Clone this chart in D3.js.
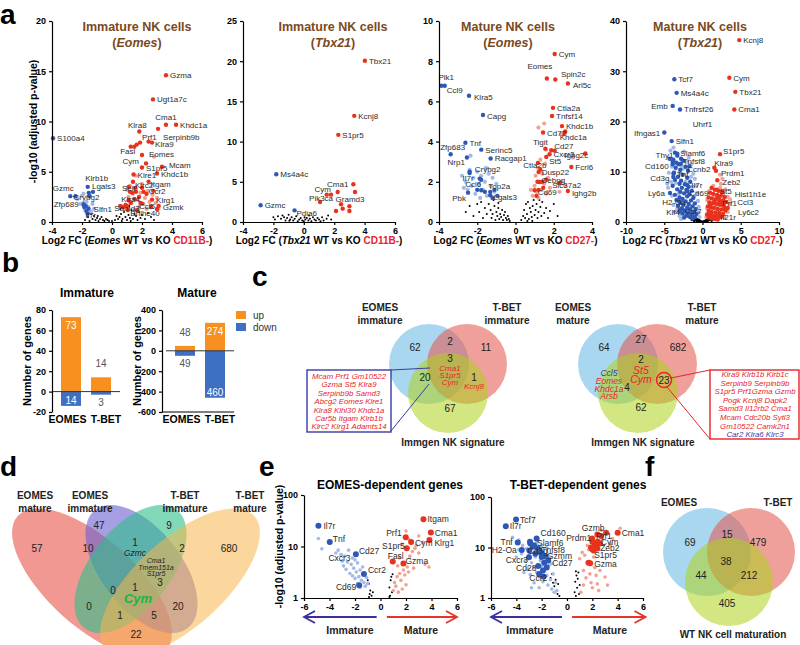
<!DOCTYPE html>
<html><head><meta charset="utf-8">
<script src="https://cdn.jsdelivr.net/npm/d3@7"></script>
<style>body{margin:0;background:#fff}svg{font-family:"Liberation Sans",Arial,Helvetica,sans-serif}</style>
</head><body><script>
// ================= DATA =================
// ---- a1: Immature NK cells (Eomes) ----
const a1Up=[["Gzma",3.6,14.6],["Ugt1a7c",2.73,12.2],["Cma1",3.6,9.67],["Khdc1a",4.27,9.67],["Serpinb9b",3.07,9.27],["Klra8",1.82,9.0],["Prf1",1.87,7.9],["Klra9",2.67,7.9],["Fasl",1.49,7.5],["Eomes",2.0,6.67],["Cym",2.27,5.83],["S1pr5",2.0,5.43],["Mcam",3.33,5.5],["Khdc1b",3.0,4.83],["Klre1",1.44,4.73],["Itgam",2.44,4.0],["Klrc2",1.4,4.0],["Sell",1.11,3.5],["Ccr2",2.11,3.0],["Klrg1",2.67,2.23],["Klra4",1.11,2.17],["Samd3",1.0,1.6],["Ccl5",2.0,1.83],["Gzmk",3.11,1.6],["Bhlhe40",1.67,1.17]];
const a1Down=[["S100a4",-3.93,8.33],["Klrb1b",-1.62,3.5],["Lgals3",-1.27,3.0],["Gzmc",-2.78,2.57],["Crybg2",-1.5,2.6],["Zfp689",-1.89,1.77],["Slfn1",-1.56,1.33],["Il7r",-1.62,0.83]];
const a1UpX=[[2.44,8.0],[1.65,7.7],[1.25,7.5],[0.9,1.7],[1.2,3.0],[1.6,3.0],[2.3,2.8],[1.8,2.5],[1.25,1.9],[0.7,1.5],[1.5,2.3],[1.35,2.9],[1.55,3.4],[2.6,1.5],[1.9,1.9],[1.05,1.2],[2.0,3.4],[0.55,1.6],[3.0,1.3],[2.75,3.1]];
const a1DownX=[[-2.44,2.57],[-1.75,1.6],[-1.85,1.5],[-1.55,2.9],[-1.7,1.1]];
const a1UpL=[[0.9,1.5],[1.0,3.2],[1.1,2.5],[1.2,3.6],[1.3,1.9],[1.4,2.8],[1.5,1.2],[1.6,3.3],[1.7,2.2],[1.8,1.5],[1.9,2.9],[2.0,3.8],[2.1,1.8],[2.2,2.4],[2.3,1.3],[2.4,3.1],[2.5,2.0],[2.6,1.6],[2.7,2.7],[2.9,1.9],[3.0,2.4],[2.8,6.5],[1.6,4.6],[3.1,1.3]];
const a1DownL=[[-2.3,2.3],[-2.1,1.8],[-1.9,2.8],[-1.8,1.2],[-1.7,2.0],[-1.6,1.5],[-1.5,2.5],[-1.4,1.0],[-1.3,1.8],[-1.2,1.3],[-1.9,1.6],[-2.0,2.6]];
const a1Ns=[[-1.8,0.2],[-1.6,0.5],[-1.5,0.1],[-1.3,0.3],[-1.2,0.6],[-1.1,0.2],[-1.0,0.4],[-0.9,0.1],[-0.8,0.3],[-0.7,0.5],[-0.6,0.2],[-0.5,0.1],[-0.4,0.3],[-0.3,0.2],[-0.2,0.1],[0,0.1],[0.2,0.2],[0.4,0.3],[0.5,0.5],[0.6,0.8],[0.7,0.3],[0.8,1.0],[0.9,0.5],[1.0,0.2],[1.1,0.7],[1.2,0.4],[1.3,1.2],[1.4,0.3],[1.5,0.8],[1.6,0.6],[1.7,0.2],[1.8,1.0],[1.9,0.4],[2.0,0.7],[2.2,0.3],[2.4,0.9],[2.6,0.5],[2.8,0.2],[-1.4,0.8],[-0.95,0.6],[0.3,0.6],[0.55,1.3],[0.9,1.5],[1.15,1.6],[0.65,0.1],[1.25,0.1]];
const a1Pos={Cma1:[0,-5,"middle"],Serpinb9b:[5,11],Klra8:[-2,-4,"middle"],Prf1:[2,-3],Klra9:[3,4],Fasl:[1,7,"end"],Eomes:[7,2],Cym:[-7,1,"end"],S1pr5:[4,4],Mcam:[7,1],Khdc1b:[4,4],Klre1:[4,4],Itgam:[2,5],Klrc2:[2,6],Sell:[0,4,"middle"],Ccr2:[5,2],Klra4:[2,2,"middle"],Samd3:[0,5,"middle"],Ccl5:[-3,5],Gzmk:[4,4],Bhlhe40:[8,6,"middle"],Klrb1b:[9,-6,"middle"],Lgals3:[-1,-3],Gzmc:[-7,-5,"middle"],Crybg2:[-3,4,"middle"],Zfp689:[-5,3,"end"],Slfn1:[5,3],Il7r:[3,4,"middle"]};

// ---- a2: Immature NK cells (Tbx21) ----
const a2Up=[["Tbx21",4.02,20.06],["Kcnj8",3.32,13.2],["S1pr5",2.27,10.84],["Cma1",2.23,3.74],["Cym",1.51,3.4],["Pik3ca",1.07,2.49],["Gramd3",2.45,2.2]];
const a2Down=[["Ms4a4c",-1.81,5.94],["Gzmc",-2.84,2.08],["Pdia6",-0.61,1.45]];
const a2UpX=[[1.79,3.4],[3.26,4.69],[3.37,3.74],[2.56,1.66],[3.0,1.95],[3.0,1.37],[2.12,1.37]];
const a2Ns=[[-2.0,0.6],[-1.9,0.3],[-1.7,0.7],[-1.5,0.4],[-1.4,0.8],[-1.2,0.2],[-1.1,0.5],[-1.0,0.9],[-0.9,0.3],[-0.8,0.6],[-0.7,0.2],[-0.6,0.4],[-0.5,0.7],[-0.4,0.1],[-0.3,0.3],[-0.2,0.5],[-0.1,0.2],[0,0.1],[0.1,0.3],[0.2,0.5],[0.3,0.2],[0.4,0.4],[0.5,0.1],[0.6,0.6],[0.7,0.3],[0.8,0.2],[0.9,0.5],[1.0,0.3],[1.2,0.6],[1.3,0.2],[1.5,0.4],[1.6,0.8],[1.8,0.3],[-1.3,0.6],[-0.95,0.15],[0.05,0.6],[0.35,0.8],[1.1,0.1]];
const a2Pos={Cma1:[0,-5,"middle"],Cym:[-4,-3,"middle"],Pik3ca:[1,-1,"middle"],Gramd3:[9,-2,"middle"],Pdia6:[2,6]};

// ---- a3: Mature NK cells (Eomes) ----
const a3Up=[["Cym",2.05,8.36],["Eomes",1.64,7.14],["Spin2c",2.08,7.09],["Arl5c",2.74,6.89],["Ctla2a",1.96,5.68],["Tnfsf14",1.91,5.27],["Khdc1b",2.43,4.77],["Cd72",1.44,4.45],["Khdc1a",2.57,4.44],["Tigit",1.56,3.65],["Cd27",1.87,3.57],["Cxcr3",1.78,3.37],["Ighg2c",3.65,3.41],["St5",1.61,3.24],["Ctla2b",1.17,2.94],["Fcrl6",2.92,2.74],["Dusp22",1.21,2.49],["Cebpg",1.26,1.99],["Slc37a2",2.31,1.94],["Cd69",1.0,1.58],["Ighg2b",2.74,1.54]];
const a3Down=[["Plk1",-3.88,6.78],["Ccl9",-3.7,6.78],["Klra5",-2.43,6.28],["Capg",-1.7,5.32],["Tnf",-2.62,3.94],["Zfp683",-3.39,3.37],["Nrp1",-2.54,3.21],["Serinc5",-1.79,3.6],["Racgap1",-1.3,3.16],["Crybg2",-2.4,2.44],["Il7r",-1.87,2.16],["Ccl6",-1.79,1.58],["Top2a",-1.32,1.5],["Pbk",-2.48,1.46],["Lgals3",-1.32,1.33]];
const a3UpX=[[1.3,2.6],[1.15,2.0],[1.4,2.0],[1.6,2.1],[1.2,1.6],[2.6,4.5],[2.05,3.55],[1.1,1.3],[1.45,1.7]];
const a3DownX=[[-2.4,2.5],[-1.8,2.1],[-1.1,1.6],[-1.6,1.5],[-2.0,1.6],[-0.95,1.3],[-1.2,1.2]];
const a3UpL=[[0.9,1.3],[1.0,1.8],[1.05,2.3],[1.1,1.5],[1.15,2.7],[1.2,1.2],[1.25,2.0],[1.3,3.1],[1.35,1.6],[1.4,2.4],[1.5,1.9],[1.55,2.9],[1.6,1.4],[1.7,2.2],[1.8,1.7],[1.2,4.7],[1.5,4.9],[1.6,3.6],[2.3,1.5],[2.4,2.0],[2.6,1.8],[3.0,3.2],[2.4,4.4],[0.8,1.6]];
const a3DownL=[[-2.8,2.3],[-2.6,2.0],[-2.5,1.6],[-2.4,2.6],[-2.3,1.8],[-2.2,2.2],[-2.1,1.4],[-2.0,2.5],[-1.9,1.9],[-1.8,2.3],[-1.7,1.6],[-1.6,2.0],[-1.5,1.3],[-1.4,2.4],[-1.3,1.8],[-1.2,2.2],[-1.1,1.5],[-1.0,1.9],[-2.7,1.7],[-1.85,1.2],[-2.35,3.3],[-1.55,2.7]];
const a3Ns=[[-2.4,0.8],[-2.2,0.3],[-2.0,0.9],[-1.9,0.5],[-1.8,1.0],[-1.7,0.2],[-1.6,0.7],[-1.5,0.4],[-1.4,0.9],[-1.3,0.6],[-1.25,0.2],[-1.2,0.4],[-1.1,0.8],[-1.0,0.5],[-0.95,0.3],[-0.9,0.7],[-0.85,0.15],[-0.8,0.4],[-0.75,0.25],[-0.7,0.6],[-0.65,0.1],[-0.6,0.35],[-0.55,0.5],[-0.5,0.2],[-0.45,0.1],[-0.4,0.3],[-0.35,0.15],[-0.3,0.05],[-1.05,0.1],[-1.15,1.1],[-0.9,0.95],[-2.6,0.5],[0.3,0.1],[0.4,0.3],[0.45,0.6],[0.5,0.2],[0.55,0.9],[0.6,0.4],[0.65,1.0],[0.7,0.15],[0.75,0.7],[0.8,0.5],[0.85,0.25],[0.9,0.8],[0.95,1.1],[1.0,0.35],[1.05,0.6],[1.1,0.9],[1.15,0.2],[1.2,0.5],[1.3,0.75],[1.35,0.3],[1.4,1.0],[1.5,0.45],[1.6,0.7],[1.7,0.2],[1.8,0.55],[2.0,0.9],[2.2,0.3],[0.62,0.05],[0.88,0.05],[1.25,1.1]];
const a3Pos={Plk1:[5,-6,"middle"],Ccl9:[2,7],Klra5:[5,4],Capg:[4,4],Zfp683:[2,-4,"middle"],Nrp1:[-2,8,"end"],Crybg2:[18,-1,"middle"],Il7r:[-6,2,"end"],Ccl6:[-8,-3,"middle"],Top2a:[9,-3,"middle"],Pbk:[-9,8,"middle"],Lgals3:[15,5,"middle"],Eomes:[-7,-9,"middle"],Spin2c:[18,-2,"middle"],Arl5c:[5,4],Khdc1a:[-5,7],Tigit:[-5,-4,"middle"],Cd27:[3,-1],St5:[3,7],Ighg2c:[-9,5,"middle"],Ctla2b:[-3,5,"middle"],Dusp22:[3,3],Cebpg:[2,1],Slc37a2:[7,5,"middle"],Cd69:[3,5],Ighg2b:[4,5]};

// ---- a4: Mature NK cells (Tbx21) ----
const a4Up=[["Kcnj8",4.81,36.2],["Cym",3.51,28.7],["Tbx21",4.29,25.9],["Cma1",4.16,22.4],["S1pr5",2.29,13.5],["Klra9",1.55,10.8],["Prdm1",1.76,10.2],["Zeb2",1.94,8.3],["St5",1.85,6.45],["Hist1h1e",2.51,5.98],["Ccl3",2.72,4.32],["Prf1",2.2,3.79],["Ly6c2",2.94,2.66],["Il21r",2.07,1.33]];
const a4Down=[["Tcf7",-3.68,28.4],["Ms4a4c",-3.38,25.7],["Emb",-3.9,23.1],["Tnfrsf26",-2.94,22.4],["Ifngas1",-4.99,17.8],["Slfn1",-4.03,16.1],["Slamf6",-3.29,13.6],["Thy1",-3.81,12.4],["Tnfsf8",-2.85,11.6],["Cd160",-3.9,11.5],["Ccnb2",-1.72,11.1],["Tnf",-3.73,9.77],["Cd3g",-3.81,8.97],["Il7r",-1.98,7.31],["Cd69",-1.98,6.18],["Ly6a",-4.25,5.78],["H2-Oa",-3.07,4.12],["Ccr7",-2.72,2.66],["Klf4",-2.94,2.46]];
const a4Text=[["Uhrf1",0.0,19.6]];
const a4DownX=[[-3.6,13.8],[-3.3,13.2],[-2.8,12.6],[-3.9,12.0],[-2.5,12.2],[-3.1,11.5],[-2.2,11.0],[-3.5,10.8],[-2.9,10.4],[-1.9,10.2],[-3.8,9.6],[-2.6,9.4],[-3.2,9.0],[-2.0,8.8],[-3.6,8.4],[-2.8,8.2],[-1.6,8.0],[-3.0,7.6],[-2.3,7.5],[-3.9,7.2],[-1.8,7.0],[-2.7,6.8],[-3.3,6.5],[-2.1,6.4],[-1.4,6.2],[-2.9,6.0],[-2.4,5.7],[-3.6,5.4],[-1.7,5.5],[-2.0,5.1],[-3.0,4.9],[-1.2,4.8],[-2.6,4.6],[-3.4,4.4],[-1.5,4.3],[-2.2,4.1],[-2.9,3.8],[-1.0,3.7],[-1.8,3.6],[-2.5,3.4],[-3.2,3.2],[-1.3,3.1],[-2.0,2.9],[-2.7,2.7],[-0.9,2.6],[-1.6,2.5],[-2.3,2.3],[-3.0,2.1],[-1.1,2.0],[-1.9,1.9],[-2.6,1.7],[-0.8,1.6],[-1.4,1.5],[-2.1,1.3],[-1.7,1.1],[-1.0,1.0],[-2.4,0.9],[-1.3,0.7],[-3.4,11.8],[-4.3,12.6]];
const a4DownL=[[-4.2,14.2],[-3.8,14.8],[-2.4,14.0],[-1.8,12.8],[-4.0,11.0],[-1.5,11.4],[-4.4,9.8],[-1.2,9.6],[-4.1,8.0],[-1.0,8.6],[-4.5,6.8],[-0.8,7.2],[-4.0,5.2],[-0.7,5.8],[-3.8,3.4],[-0.6,4.2],[-3.6,2.0],[-0.5,3.0],[-3.0,1.2],[-0.5,1.9],[-2.8,0.6],[-0.4,1.0],[-1.5,9.0],[-2.5,10.6],[-3.7,10.0],[-1.3,7.0],[-2.2,8.0],[-3.5,7.8],[-1.9,6.0],[-3.1,5.6],[-1.1,5.1],[-2.8,4.0],[-1.7,3.1],[-3.3,2.6],[-2.4,2.0],[-1.6,1.9],[-3.0,9.8],[-2.7,11.2],[-2.0,12.0],[-4.6,7.6]];
const a4UpX=[[1.2,6.8],[1.6,6.4],[2.1,6.2],[2.6,6.0],[1.0,5.8],[1.4,5.6],[1.9,5.4],[2.4,5.2],[2.9,5.0],[0.8,4.9],[1.2,4.7],[1.7,4.5],[2.2,4.4],[2.7,4.2],[3.1,4.0],[0.9,3.9],[1.3,3.7],[1.8,3.6],[2.3,3.4],[2.8,3.2],[0.7,3.1],[1.1,2.9],[1.5,2.8],[2.0,2.6],[2.5,2.5],[3.0,2.3],[0.8,2.2],[1.2,2.0],[1.7,1.9],[2.2,1.8],[2.7,1.6],[0.6,1.5],[1.0,1.4],[1.4,1.2],[1.9,1.1],[2.4,1.0],[0.8,0.9],[1.2,0.7],[1.6,0.6],[2.0,0.5],[1.5,4.0],[2.0,5.0],[1.0,3.3],[2.5,3.8],[3.3,2.8]];
const a4UpL=[[1.4,7.2],[2.3,6.8],[3.0,6.5],[0.9,6.2],[2.7,5.6],[3.3,5.0],[1.5,5.1],[0.6,4.4],[2.0,4.0],[3.5,3.6],[0.6,2.7],[1.8,3.1],[3.3,2.0],[2.6,1.3],[0.5,1.0],[2.9,0.8],[2.4,7.6],[3.6,4.5],[2.3,9.4],[2.6,8.6]];
const a4Ns=[[-2.0,1.3],[-1.8,1.0],[-1.6,0.8],[-1.5,1.2],[-1.3,0.6],[-1.2,0.9],[-1.0,0.5],[-0.9,0.7],[-0.8,0.4],[-0.7,0.3],[-0.6,0.5],[-0.5,0.2],[-0.4,0.35],[-0.3,0.15],[-0.2,0.1],[-0.1,0.05],[0,0.02],[0.1,0.05],[0.2,0.1],[0.3,0.15],[0.4,0.3],[0.5,0.2],[0.6,0.45],[0.7,0.3],[0.8,0.6],[0.9,0.4],[1.0,0.8],[1.1,0.5],[1.3,1.0],[1.5,0.7],[1.7,1.2],[-1.1,0.2],[-0.75,0.1],[0.35,0.05],[0.65,0.1],[-1.4,0.4],[1.2,0.25],[-0.55,0.6],[0.55,0.7]];
const a4Pos={S1pr5:[3,0],Klra9:[0,-2],Prdm1:[5,5],Zeb2:[5,5],St5:[3,4],Hist1h1e:[13,5],Ccl3:[14,5],Prf1:[3,3],Ly6c2:[13,6],Il21r:[2,5],Emb:[-5,3,"end"],Ifngas1:[-4,3,"end"],Slamf6:[3,2],Thy1:[0,-2,"end"],Tnfsf8:[2,0],Cd160:[-4,5,"end"],Ccnb2:[-2,6],Tnf:[3,4],Cd3g:[-4,4,"end"],Cd69:[2,5],Ly6a:[-5,3,"end"],"H2-Oa":[-5,4,"middle"],Ccr7:[3,5],Klf4:[0,5,"end"]};

// ---- b: numbers of genes ----
const barCats=["EOMES","T-BET"];
const immUp=[73,14], immDown=[14,3];
const matUp=[48,274], matDown=[49,460];

// ---- c: Venn diagrams vs Immgen NK signature ----
const c1Sets=[["EOMES","immature"],["T-BET","immature"],["Immgen NK signature"]];
const c1Counts={E:62,T:11,N:67,ET:2,EN:20,TN:1,ETN:3};
const c1GenesETN=["Cma1","S1pr5","Cym"], c1GenesTN=["Kcnj8"];
const c1Box=["Mcam Prf1 Gm10522","Gzma St5 Klra9","Serpinb9b Samd3","Abcg2 Eomes Klre1","Klra8 Klhl30 Khdc1a","Car5b Itgam Klrb1b","Klrc2 Klrg1 Adamts14"];
const c2Sets=[["EOMES","mature"],["T-BET","mature"],["Immgen NK signature"]];
const c2Counts={E:64,T:682,N:62,ET:27,EN:4,TN:23,ETN:2};
const c2GenesETN=["St5","Cym"];
const c2GenesEN=[["Ccl5","down"],["Eomes","up"],["Khdc1a","up"],["Arsb","up"]];
const c2BoxUp=["Klra9 Klrb1b Klrb1c","Serpinb9 Serpinb9b","S1pr5 Prf1Gzma Gzmb","Pogk Kcnj8 Dapk2","Samd3 Il12rb2 Cma1","Mcam Cdc20b Sytl3","Gm10522 Camk2n1"];
const c2BoxDown=["Car2 Klra6 Klrc3"];

// ---- d: 4-set Venn ----
const dSets=[["EOMES","mature"],["EOMES","immature"],["T-BET","immature"],["T-BET","mature"]];
const dCounts={A:57,B:47,C:9,D:680,AB:10,BC:1,CD:2,AC:0,BD:20,AD:22,ABC:0,BCD:3,ABD:5,ACD:1,ABCD:1};
const dGenesBC=["Gzmc"], dGenesBCD=["Cma1","Tmem151a","S1pr5"], dGenesABCD=["Cym"];

// ---- e: EOMES / T-BET dependent genes in maturation ----
const e1Up=[["Itgam",3.37,34],["Cma1",3.95,18.6],["Klrg1",3.84,13.4],["Prf1",1.98,15.1],["Cym",2.4,12.2],["S1pr5",2.06,9.2],["Fasl",0.96,5.1],["Gzma",1.8,4.69]];
const e1Down=[["Il7r",-4.87,25.2],["Tnf",-3.98,12.2],["Cd27",-1.93,7.1],["Ccr2",-1.3,2.94],["Cd69",-1.67,1.77]];
const e1DownLabOnly=[["Cxcr3",-3.06,6.8]];
const e1DownL=[[-4.87,14.3],[-4.6,9],[-3.32,8.5],[-3.1,7],[-2.8,6.5],[-2.6,5],[-2.5,8.5],[-2.3,4.5],[-2.2,6],[-2.1,3.8],[-2.0,5.5],[-1.9,3.2],[-1.8,4.8],[-1.7,2.6],[-1.6,3.5],[-1.5,2.2],[-1.4,4.0],[-1.3,2.0],[-1.2,1.7],[-1.1,2.5],[-3.0,5.2],[-2.7,3.6],[-2.4,3.0],[-2.0,2.4],[-1.8,1.9],[-1.6,1.6],[-3.5,7.5],[-2.9,4.2],[-1.0,1.9],[-2.2,2.7]];
const e1UpL=[[1.0,1.4],[1.1,2.0],[1.2,1.7],[1.3,2.6],[1.4,1.3],[1.5,3.0],[1.6,2.2],[1.7,1.5],[1.8,3.5],[1.9,2.8],[2.0,1.8],[2.1,4.0],[2.2,3.2],[2.3,6.5],[2.5,8.0],[2.6,3.8],[2.8,10.5],[3.0,7.5],[3.3,12],[3.5,4.5],[3.8,4.0],[2.0,20],[2.2,14],[1.7,11],[3.0,16],[2.7,9.2],[1.35,4.2],[1.5,6.0]];
const e1Ns=[[-1.0,2.2],[-0.9,1.9],[-0.85,1.2],[-0.8,1.4],[-0.7,1.1],[-0.6,1.3],[-0.9,1.05],[0.7,1.6],[0.8,2.2],[0.85,2.6],[0.9,1.3],[0.75,1.1],[0.95,2.9],[0.7,1.05]];
const e1Pos={Il7r:[5,3],Tnf:[3,0],Cd27:[3,0],Ccr2:[4,-1],Cd69:[-3,5,"end"],Cxcr3:[-2,6,"middle"],Klrg1:[5,6],Prf1:[-4,-1,"end"],Cym:[4,4],S1pr5:[-2,1,"end"],Fasl:[3,-3,"middle"],Gzma:[2,1]};

const e2Up=[["Gzmb",3.09,19.6],["Cma1",4.0,19.6],["Prf1",2.69,16.8],["Prdm1",1.99,15.1],["Cym",2.43,13.0],["Zeb2",2.3,10.4],["S1pr5",1.99,9.2],["Gzma",1.83,4.9]];
const e2Down=[["Tcf7",-4.02,35.8],["Il7r",-4.83,26.5],["Tnf",-3.89,12.6],["Cd160",-2.4,15.1],["Slamf6",-2.92,13.0],["H2-Oa",-3.57,8.9],["Cd3g",-2.97,8.7],["Tnfsf8",-2.19,8.9],["Gzmm",-1.74,6.8],["Cxcr3",-3.0,6.4],["Cd27",-1.48,5.5],["Cd28",-2.27,4.3],["Ccr2",-1.87,2.67]];
const e2DownX=[[-2.9,12],[-2.7,10.5],[-2.3,9.5],[-2.1,8],[-2.5,7.5],[-2.0,6.5],[-1.8,5],[-1.6,4],[-1.9,3.5],[-2.2,3.0],[-2.6,11]];
const e2UpX=[[2.0,13],[2.2,11],[2.4,9.5],[1.9,10],[2.6,12],[2.1,8.7],[2.4,18],[1.7,5]];
const e2DownL=[[-4.3,16],[-3.8,14],[-3.5,11],[-3.2,9.5],[-3.0,7],[-2.8,5],[-2.7,12],[-2.6,4],[-2.5,6.5],[-2.4,3.2],[-2.3,8.5],[-2.2,2.6],[-2.1,5.5],[-2.0,4.2],[-1.9,2.1],[-1.8,3.5],[-1.7,6],[-1.6,2.8],[-1.5,1.8],[-1.4,4.5],[-1.3,2.3],[-1.2,1.5],[-1.1,3.0],[-1.0,1.3],[-3.6,7.5],[-3.3,5.5],[-3.1,3.8],[-2.9,2.9],[-2.6,2.0],[-2.2,1.6],[-1.9,8.0],[-1.6,10],[-1.3,6.5],[-2.4,12.5],[-3.0,13],[-2.0,11],[-1.5,7],[-1.2,4.8],[-0.9,2.0],[-3.8,9],[-4.0,6.5],[-3.4,3.2],[-2.8,1.6],[-0.8,1.4]];
const e2UpL=[[1.0,6],[1.2,8],[1.3,3.5],[1.4,7],[1.5,2.5],[1.6,5],[1.7,9],[1.8,3.0],[1.9,2.0],[2.0,1.6],[2.1,6.5],[2.2,4],[2.3,2.8],[2.4,1.9],[2.5,1.4],[2.6,3.5],[2.7,22],[3.0,2.6],[3.2,1.8],[3.4,12],[3.6,15],[4.2,24],[1.1,1.3],[1.3,1.8],[2.8,14],[1.6,11]];
const e2Ns=[[-1.3,2.5],[-1.2,3.0],[-1.1,2.0],[-1.0,1.7],[-0.9,2.3],[-0.8,1.4],[-0.75,1.2],[-0.7,1.9],[-0.6,1.1],[-1.05,1.3],[0.6,1.3],[0.65,2.1],[0.7,3.4],[0.75,2.8],[0.8,1.6],[0.85,2.4],[0.9,3.2],[0.95,1.2],[1.0,1.8],[0.7,1.1]];
const e2Pos={Tnf:[-5,3,"end"],Cd160:[4,-2],Slamf6:[7,4],"H2-Oa":[-5,3,"end"],Cd3g:[-2,3],Tnfsf8:[2,3],Gzmm:[2,3],Cxcr3:[-1,6,"end"],Cd27:[4,5],Cd28:[-12,5,"middle"],Ccr2:[-5,5,"middle"],Gzmb:[-13,-2,"middle"],Prf1:[-5,3],Prdm1:[-1,3,"end"],Cym:[3,3],Zeb2:[4,4],S1pr5:[2,9],Gzma:[4,4]};

// ---- f: Venn with WT NK maturation ----
const fSets=["EOMES","T-BET","WT NK cell maturation"];
const fCounts={E:69,T:479,W:405,ET:15,EW:44,TW:212,ETW:38};

// ================= DRAWING =================
const svg=d3.select("body").append("svg").attr("width",800).attr("height",645);
const COL={up:"#e8321e",dn:"#2e58b5",upL:"#f3a194",dnL:"#a3b9e6",brown:"#7a4a1e",red:"#e8232a",navy:"#3b3aa6",orange:"#f7901e",bblue:"#3f6fc0"};
const fmt=d=>String(d);

function styleAxis(a,fs){a.selectAll("path,line").attr("stroke","#000").attr("stroke-width",1.2);
  a.selectAll("text").attr("font-size",fs||9).attr("font-weight","bold").attr("fill","#000").attr("font-family","Liberation Sans, Arial, sans-serif");}

function richText(g,x,y,parts,fs){
  const t=g.append("text").attr("x",x).attr("y",y).attr("text-anchor","middle").attr("font-size",fs).attr("font-weight","bold");
  parts.forEach(p=>{const s=t.append("tspan").text(p[0]);
    if(p[1]==="i")s.attr("font-style","italic"); if(p[1]==="r")s.attr("fill",COL.red);});
  return t;}

function volcano(p){
  const g=svg.append("g");
  const x=d3.scaleLinear().domain(p.xd).range(p.xr);
  const y=(p.log?d3.scaleLog():d3.scaleLinear()).domain(p.yd).range(p.yr);
  const dots=(arr,fill,r)=>g.append("g").selectAll("circle").data(arr||[]).join("circle")
     .attr("cx",d=>x(d[0])).attr("cy",d=>y(d[1])).attr("r",r).attr("fill",fill);
  dots(p.ns,"#000",p.rN);
  dots(p.dnL,COL.dnL,p.rL); dots(p.upL,COL.upL,p.rL);
  dots(p.dnX,COL.dn,p.rX); dots(p.upX,COL.up,p.rX);
  dots((p.dnLab||[]).map(d=>[d[1],d[2]]),COL.dnL,p.rL);
  dots(p.dn.map(d=>[d[1],d[2]]),COL.dn,p.rD);
  dots(p.up.map(d=>[d[1],d[2]]),COL.up,p.rD);
  const pos=p.pos||{};
  const labs=p.dn.concat(p.up).concat(p.dnLab||[]);
  g.append("g").selectAll("text").data(labs).join("text")
    .attr("x",d=>x(d[1])+(pos[d[0]]||[4,3])[0])
    .attr("y",d=>y(d[2])+(pos[d[0]]||[4,3])[1])
    .attr("text-anchor",d=>(pos[d[0]]||[])[2]||"start")
    .attr("font-size",p.lf).attr("fill","#2b2b2b").text(d=>d[0]);
  g.append("g").selectAll("text").data(p.textOnly||[]).join("text")
    .attr("x",d=>x(d[1])).attr("y",d=>y(d[2])+3).attr("text-anchor","middle")
    .attr("font-size",p.lf).attr("fill","#2b2b2b").text(d=>d[0]);
  const xa=g.append("g").attr("transform",`translate(0,${p.yr[0]})`)
    .call(d3.axisBottom(x).tickValues(p.xt).tickSize(3).tickSizeOuter(0).tickFormat(fmt));
  const ya=g.append("g").attr("transform",`translate(${p.xr[0]},0)`)
    .call(d3.axisLeft(y).tickValues(p.yt).tickSize(3).tickSizeOuter(0).tickFormat(fmt));
  styleAxis(xa);styleAxis(ya);
  if(p.title){
    g.append("text").attr("x",p.tx).attr("y",p.ty).attr("text-anchor","middle").attr("font-size",12.5)
      .attr("font-weight","bold").attr("fill",COL.brown).text(p.title);
    const t=g.append("text").attr("x",p.tx).attr("y",p.ty+16).attr("text-anchor","middle").attr("font-size",12.5)
      .attr("font-weight","bold").attr("fill",COL.brown);
    t.append("tspan").text("(");t.append("tspan").attr("font-style","italic").text(p.gene);t.append("tspan").text(")");
  }
  if(p.xlab) richText(g,(p.xr[0]+p.xr[1])/2,p.yr[0]+22,p.xlab,10);
  if(p.ylab) g.append("text").attr("transform",`translate(${p.ylx},${(p.yr[0]+p.yr[1])/2}) rotate(-90)`)
     .attr("text-anchor","middle").attr("font-size",p.ylf||10.5).attr("font-weight","bold").text(p.ylab);
  return {g,x,y};
}

// Panel a
volcano({xd:[-4,6],xr:[52,202],yd:[0,20],yr:[222,21],xt:[-4,-2,0,2,4,6],yt:[0,5,10,15,20],
  up:a1Up,dn:a1Down,upX:a1UpX,dnX:a1DownX,upL:a1UpL,dnL:a1DownL,ns:a1Ns,pos:a1Pos,
  rD:2.2,rX:2.2,rL:2.1,rN:1,lf:8,title:"Immature NK cells",gene:"Eomes",tx:137,ty:31,
  xlab:[["Log2 FC ("],["Eomes","i"],[" WT vs KO "],["CD11B-","r"],[")"]],
  ylab:"-log10 (adjusted p-value)",ylx:37});
volcano({xd:[-4,6],xr:[243,395],yd:[0,25],yr:[222,21],xt:[-4,-2,0,2,4,6],yt:[0,5,10,15,20,25],
  up:a2Up,dn:a2Down,upX:a2UpX,ns:a2Ns,pos:a2Pos,
  rD:2.2,rX:2.2,rL:2.1,rN:1,lf:8,title:"Immature NK cells",gene:"Tbx21",tx:333,ty:31,
  xlab:[["Log2 FC ("],["Tbx21","i"],[" WT vs KO "],["CD11B-","r"],[")"]]});
volcano({xd:[-4,4],xr:[439,592],yd:[0,10],yr:[222,21],xt:[-4,-2,0,2,4],yt:[0,2,4,6,8,10],
  up:a3Up,dn:a3Down,upX:a3UpX,dnX:a3DownX,upL:a3UpL,dnL:a3DownL,ns:a3Ns,pos:a3Pos,
  rD:2.2,rX:2.2,rL:2.1,rN:1,lf:8,title:"Mature NK cells",gene:"Eomes",tx:508,ty:31,
  xlab:[["Log2 FC ("],["Eomes","i"],[" WT vs KO "],["CD27-","r"],[")"]]});
volcano({xd:[-10,10],xr:[626,779],yd:[0,40],yr:[222,21],xt:[-10,-5,0,5,10],yt:[0,10,20,30,40],
  up:a4Up,dn:a4Down,upX:a4UpX,dnX:a4DownX,upL:a4UpL,dnL:a4DownL,ns:a4Ns,pos:a4Pos,textOnly:a4Text,
  rD:2.2,rX:2.2,rL:2.1,rN:1.2,lf:8,title:"Mature NK cells",gene:"Tbx21",tx:700,ty:31,
  xlab:[["Log2 FC ("],["Tbx21","i"],[" WT vs KO "],["CD27-","r"],[")"]]});

// Panel b
function bars(p){
  const g=svg.append("g");
  const x=d3.scaleBand().domain(barCats).range(p.xr).paddingInner(1/3).paddingOuter(1/6);
  const y=d3.scaleLinear().domain(p.yd).range([412,310]);
  const big=p.up.indexOf(d3.max(p.up));
  g.selectAll(".u").data(p.up).join("rect").attr("x",(d,i)=>x(barCats[i])).attr("width",x.bandwidth())
    .attr("y",d=>y(d)).attr("height",d=>y(0)-y(d)).attr("fill",COL.orange);
  g.selectAll(".d").data(p.down).join("rect").attr("x",(d,i)=>x(barCats[i])).attr("width",x.bandwidth())
    .attr("y",y(0)).attr("height",d=>y(-d)-y(0)).attr("fill",COL.bblue);
  g.append("line").attr("x1",p.xr[0]-4).attr("x2",p.lineEnd).attr("y1",y(0)).attr("y2",y(0)).attr("stroke","#333").attr("stroke-width",1);
  const cx=i=>x(barCats[i])+x.bandwidth()/2;
  p.up.forEach((v,i)=>g.append("text").attr("x",cx(i)).attr("y",i===big?y(v)+12:y(v)-10).attr("text-anchor","middle")
     .attr("font-size",10).attr("fill",i===big?"#fff":"#555").text(v));
  p.down.forEach((v,i)=>g.append("text").attr("x",cx(i)).attr("y",i===big?y(-v)-2:y(-v)+11).attr("text-anchor","middle")
     .attr("font-size",10).attr("fill",i===big?"#fff":"#555").text(v));
  const ya=g.append("g").attr("transform",`translate(${p.ax},0)`).call(d3.axisLeft(y).tickValues(p.yt).tickSize(3).tickSizeOuter(0).tickFormat(fmt));
  styleAxis(ya);
  if(p.bottom) g.append("line").attr("x1",p.ax).attr("x2",p.lineEnd).attr("y1",412).attr("y2",412).attr("stroke","#000").attr("stroke-width",1.2);
  const shift=[-3.5,5];
  barCats.forEach((c,i)=>g.append("text").attr("x",cx(i)+shift[i]).attr("y",423).attr("text-anchor","middle")
     .attr("font-size",10.5).attr("font-weight","bold").text(c));
  g.append("text").attr("x",p.tx).attr("y",297).attr("text-anchor","middle").attr("font-size",12).attr("font-weight","bold").text(p.title);
  g.append("text").attr("transform",`translate(${p.ylx},361) rotate(-90)`).attr("text-anchor","middle")
     .attr("font-size",11).attr("font-weight","bold").text("Number of genes");
}
bars({xr:[56,116],yd:[-20,80],yt:[-20,0,20,40,60,80],up:immUp,down:immDown,ax:52,lineEnd:120,title:"Immature",tx:87,ylx:31,bottom:false});
bars({xr:[170,230],yd:[-600,400],yt:[-600,-400,-200,0,200,400],up:matUp,down:matDown,ax:162,lineEnd:234,title:"Mature",tx:197,ylx:141,bottom:true});
[["up",COL.orange,315],["down",COL.bblue,327]].forEach(l=>{
  svg.append("rect").attr("x",236).attr("y",l[2]-4).attr("width",10).attr("height",8).attr("fill",l[1]);
  svg.append("text").attr("x",253).attr("y",l[2]+3.5).attr("font-size",10).attr("fill","#333").text(l[0]);});

// Panel c
function venn3(g,cs,colors,op){
  cs.forEach((c,i)=>g.append("circle").attr("cx",c[0]).attr("cy",c[1]).attr("r",c[2]).attr("fill",colors[i]).attr("fill-opacity",op));
}
function txt(g,x,y,s,o){o=o||{};const t=g.append("text").attr("x",x).attr("y",y).attr("text-anchor",o.a||"middle")
  .attr("font-size",o.fs||10).attr("fill",o.fill||"#222").text(s);
  if(o.b)t.attr("font-weight","bold"); if(o.i)t.attr("font-style","italic"); return t;}
const vennCols=["#64b6e4","#e45249","#add11c"];
{
  const g=svg.append("g");
  venn3(g,[[429,364,40],[467,364,40],[448,393,40]],vennCols,0.55);
  txt(g,380,311,c1Sets[0][0],{b:1});txt(g,380,324,c1Sets[0][1],{b:1});
  txt(g,507,311,c1Sets[1][0],{b:1});txt(g,507,324,c1Sets[1][1],{b:1});
  txt(g,453,446,c1Sets[2][0],{b:1});
  txt(g,415,351,c1Counts.E);txt(g,486,351,c1Counts.T);txt(g,450,412,c1Counts.N);
  txt(g,450,345,c1Counts.ET);txt(g,425,381,c1Counts.EN);txt(g,474,381,c1Counts.TN);txt(g,450,362,c1Counts.ETN);
  c1GenesETN.forEach((s,i)=>txt(g,450,371+i*7,s,{i:1,fill:COL.red,fs:8}));
  c1GenesTN.forEach((s,i)=>txt(g,474,389+i*7,s,{i:1,fill:COL.red,fs:8}));
  g.append("rect").attr("x",307).attr("y",370).attr("width",84).attr("height",62).attr("fill","#fff").attr("stroke",COL.navy).attr("stroke-width",1.4);
  c1Box.forEach((s,i)=>txt(g,349,379+i*8.4,s,{i:1,fill:COL.red,fs:7.8}));
  g.append("line").attr("x1",391).attr("y1",370).attr("x2",430).attr("y2",368).attr("stroke",COL.navy).attr("stroke-width",1);
  g.append("line").attr("x1",391).attr("y1",431).attr("x2",429).attr("y2",384).attr("stroke",COL.navy).attr("stroke-width",1);
}
{
  const g=svg.append("g");
  venn3(g,[[618,364,40],[657,364,40],[638,393,40]],vennCols,0.55);
  txt(g,573,311,c2Sets[0][0],{b:1});txt(g,573,324,c2Sets[0][1],{b:1});
  txt(g,702,311,c2Sets[1][0],{b:1});txt(g,702,324,c2Sets[1][1],{b:1});
  txt(g,643,446,c2Sets[2][0],{b:1});
  txt(g,604,351,c2Counts.E);txt(g,678,351,c2Counts.T);txt(g,641,411,c2Counts.N);
  txt(g,641,343,c2Counts.ET);txt(g,627,391,c2Counts.EN);txt(g,641,363,c2Counts.ETN);
  txt(g,664,384,c2Counts.TN);
  g.append("circle").attr("cx",664).attr("cy",380).attr("r",7.5).attr("fill","none").attr("stroke",COL.red).attr("stroke-width",1.5);
  c2GenesETN.forEach((s,i)=>txt(g,641,373.5+i*9.5,s,{i:1,fill:COL.red,fs:10.5}));
  c2GenesEN.forEach((s,i)=>txt(g,609,376+i*7.8,s[0],{i:1,fill:s[1]==="up"?COL.red:COL.navy,fs:8.5}));
  g.append("rect").attr("x",710).attr("y",370).attr("width",89).attr("height",69).attr("fill","#fff").attr("stroke",COL.red).attr("stroke-width",1.4);
  c2BoxUp.concat(c2BoxDown).forEach((s,i)=>txt(g,755,377+i*8.6,s,{i:1,fill:i<c2BoxUp.length?COL.red:COL.navy,fs:7.8}));
  g.append("line").attr("x1",671).attr("y1",378).attr("x2",710).attr("y2",370).attr("stroke",COL.red).attr("stroke-width",1);
  g.append("line").attr("x1",667).attr("y1",387).attr("x2",710).attr("y2",439).attr("stroke",COL.red).attr("stroke-width",1);
}

// Panel d
{
  const g=svg.append("g");
  const ell=[[92,583,100,44,42,"#e8544a",0.6],[141.5,569,75,40,51.8,"#6b5fd0",0.6],[130.5,569,75,40,-51.8,"#2fc08a",0.6],[180,583,100,44,-42,"#f7b44c",0.55]];
  ell.forEach(e=>g.append("ellipse").attr("cx",0).attr("cy",0).attr("rx",e[2]).attr("ry",e[3])
     .attr("transform",`translate(${e[0]},${e[1]}) rotate(${e[4]})`).attr("fill",e[5]).attr("fill-opacity",e[6]));
  const lx=[35,90,185,250];
  dSets.forEach((s,i)=>{txt(g,lx[i],499,s[0],{b:1});txt(g,lx[i],512,s[1],{b:1});});
  const reg={A:[37,552],B:[99,529],C:[169,529],D:[229,552],AB:[88,552],BC:[135,546],CD:[182,552],ABC:[113,594],BCD:[160,586],AC:[89,610],BD:[178,610],ABCD:[135,591],ACD:[120,619],ABD:[154,619],AD:[136,638]};
  Object.keys(reg).forEach(k=>txt(g,reg[k][0],reg[k][1],dCounts[k],{fs:10}));
  dGenesBC.forEach((s,i)=>txt(g,135,556+i*7,s,{i:1,fs:8.5}));
  dGenesBCD.forEach((s,i)=>txt(g,156,563+i*6.5,s,{i:1,fs:7}));
  dGenesABCD.forEach((s,i)=>txt(g,138,603,s,{i:1,b:1,fs:13,fill:"#22b14c"}));
}

// Panel e
const eArrow=(g,x1,x2,y,col)=>{
  g.append("line").attr("x1",x1).attr("x2",x2).attr("y1",y).attr("y2",y).attr("stroke",col).attr("stroke-width",1.8);
  const s=x2>x1?-1:1;
  g.append("polyline").attr("points",`${x2+s*11},${y-6} ${x2},${y} ${x2+s*11},${y+6}`).attr("fill","none").attr("stroke",col).attr("stroke-width",1.8);
};
{
  const v=volcano({xd:[-6,6],xr:[304,457],yd:[1,100],yr:[598,495],log:true,xt:[-6,-4,-2,0,2,4,6],yt:[1,10,100],
    up:e1Up,dn:e1Down,dnLab:e1DownLabOnly,upL:e1UpL,dnL:e1DownL,ns:e1Ns,pos:e1Pos,rD:3,rX:3,rL:1.8,rN:1,lf:8.5,
    ylab:"-log10 (adjusted p-value)",ylx:283,ylf:10.5});
  svg.append("text").attr("x",390).attr("y",489).attr("text-anchor","middle").attr("font-size",12).attr("font-weight","bold").text("EOMES-dependent genes");
  eArrow(svg,v.x(-0.3),v.x(-6),617,"#3b2fa0"); eArrow(svg,v.x(0.5),v.x(6),617,"#e8332a");
  txt(svg,350,634,"Immature",{b:1,fs:10.5}); txt(svg,421,634,"Mature",{b:1,fs:10.5});
  const w=volcano({xd:[-6,6],xr:[491,643],yd:[1,100],yr:[598,497],log:true,xt:[-6,-4,-2,0,2,4,6],yt:[1,10,100],
    up:e2Up,dn:e2Down,upX:e2UpX,dnX:e2DownX,upL:e2UpL,dnL:e2DownL,ns:e2Ns,pos:e2Pos,rD:3,rX:3,rL:1.8,rN:1,lf:8.5});
  svg.append("text").attr("x",578).attr("y",489).attr("text-anchor","middle").attr("font-size",12).attr("font-weight","bold").text("T-BET-dependent genes");
  eArrow(svg,w.x(-0.4),w.x(-6),617,"#3b2fa0"); eArrow(svg,w.x(0.4),w.x(6.2),617,"#e8332a");
  txt(svg,530,634,"Immature",{b:1,fs:10.5}); txt(svg,610,634,"Mature",{b:1,fs:10.5});
}

// Panel f
{
  const g=svg.append("g");
  venn3(g,[[707,552,44],[751,552,44],[729,582,44]],vennCols,0.55);
  txt(g,679,506,fSets[0],{b:1});txt(g,778,506,fSets[1],{b:1});txt(g,733,638,fSets[2],{b:1});
  txt(g,690,546,fCounts.E);txt(g,758,546,fCounts.T);txt(g,727,607,fCounts.W);
  txt(g,727,538,fCounts.ET);txt(g,701,579,fCounts.EW);txt(g,749,579,fCounts.TW);txt(g,726,565,fCounts.ETW);
}

// Panel letters
[["a",0,24],["b",2,272],["c",252,286],["d",0,476],["e",259,476],["f",645,476]].forEach(l=>
  svg.append("text").attr("x",l[1]).attr("y",l[2]).attr("font-size",28).attr("font-weight","bold").text(l[0]));
</script></body></html>
